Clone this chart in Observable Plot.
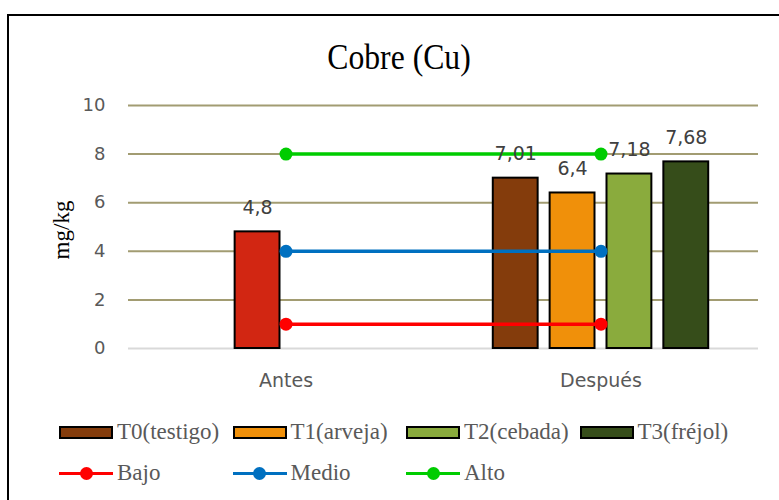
<!DOCTYPE html>
<html><head><meta charset="utf-8">
<script src="https://cdn.jsdelivr.net/npm/d3@7"></script>
<script src="https://cdn.jsdelivr.net/npm/@observablehq/plot@0.6"></script>
<style>
body{margin:0;background:#fff;width:779px;height:500px;overflow:hidden;position:relative;font-family:"Liberation Serif","Times New Roman",serif}
#frame{position:absolute;left:7px;top:14px;width:900px;height:700px;border-left:2px solid #000;border-top:2px solid #000;}
#title{position:absolute;left:248.5px;width:300px;top:39px;text-align:center;font-size:36px;line-height:36px;color:#000;transform:scaleX(0.88);white-space:nowrap}
#ylabel{position:absolute;left:22px;top:217px;width:80px;height:26px;line-height:26px;text-align:center;font-size:23px;color:#000;transform:rotate(-90deg);white-space:nowrap}
#chart{position:absolute;left:0;top:90px}
.lrow{position:absolute;left:59px;display:grid;grid-template-columns:repeat(4,173.5px);height:24px;align-items:center}
.item{display:flex;align-items:center;font-size:23px;color:#595959;white-space:nowrap;line-height:24px}
.sw{width:50px;height:9px;border:2px solid #000;margin-right:4px;box-sizing:content-box}
.ln{width:54px;height:14px;margin-right:4px;position:relative}
.ln .bar{position:absolute;left:0;right:0;top:5.5px;height:3.5px}
.ln .dt{position:absolute;left:20.5px;top:0.5px;width:13px;height:13px;border-radius:50%}
</style>
</head><body>
<div id="frame"></div>
<div id="title">Cobre (Cu)</div>
<div id="ylabel">mg/kg</div>
<div id="chart"></div>
<div class="lrow" id="leg1" style="top:420px"></div>
<div class="lrow" id="leg2" style="top:461px"></div>
<script>
const titleText = "Cobre (Cu)";
const yLabel = "mg/kg";
const categories = ["Antes", "Después"];
const treatments = ["T0(testigo)", "T1(arveja)", "T2(cebada)", "T3(fréjol)"];
const treatmentColors = ["#843c0c", "#f0900a", "#8aab3d", "#364d1a"];
const despuesValues = [7.01, 6.4, 7.18, 7.68];
const antesValue = 4.8;
const antesSlot = "T1(arveja)";
const antesColor = "#d22612";
const levels = ["Bajo", "Medio", "Alto"];
const levelValues = [1, 4, 8];
const levelColors = ["#ff0000", "#0070c0", "#00cc00"];
const yTicks = [0, 2, 4, 6, 8, 10];

const SLOT = 0.1805, BARW = 0.1424;
const bars = [
  {cat: 0, slot: treatments.indexOf(antesSlot), value: antesValue, color: antesColor},
  ...despuesValues.map((v, i) => ({cat: 1, slot: i, value: v, color: treatmentColors[i]}))
];
const center = d => d.cat + (d.slot - (treatments.length - 1) / 2) * SLOT;
const levelLines = levels.flatMap((l, i) => categories.map((c, ci) => ({level: l, cat: ci, value: levelValues[i], color: levelColors[i]})));
const fmt = v => String(v).replace(".", ",");

const chart = Plot.plot({
  width: 779, height: 308,
  marginLeft: 128, marginRight: 21, marginTop: 15, marginBottom: 50,
  x: {domain: [-0.5, 1.5]},
  y: {domain: [0, 10]},
  color: {type: "identity"},
  style: {fontFamily: "DejaVu Sans", fontSize: "18px", color: "#595959", background: "transparent"},
  marks: [
    Plot.ruleY(yTicks.filter(t => t > 0), {stroke: "#a29c72", strokeWidth: 2}),
    Plot.ruleY([0], {stroke: "#d9d9d9", strokeWidth: 2}),
    Plot.rect(bars, {x1: d => center(d) - BARW / 2, x2: d => center(d) + BARW / 2, y1: () => 0, y2: "value", fill: d => d.color, stroke: "#000", strokeWidth: 2}),
    Plot.axisY({ticks: yTicks, tickSize: 0, tickPadding: 23, label: null, fontSize: 18}),
    Plot.axisX({ticks: categories.map((_, i) => i), tickFormat: i => categories[i], tickSize: 0, tickPadding: 25, label: null, fontSize: 19}),
    Plot.line(levelLines, {x: "cat", y: "value", z: "level", stroke: d => d.color, strokeWidth: 3.5}),
    Plot.dot(levelLines, {x: "cat", y: "value", fill: d => d.color, r: 6.5}),
    Plot.text(bars, {x: center, y: "value", text: d => fmt(d.value), dy: -24, fill: "#404040", fontSize: 19})
  ]
});
document.getElementById("chart").appendChild(chart);
document.getElementById("title").textContent = titleText;
document.getElementById("ylabel").textContent = yLabel;

const leg1 = document.getElementById("leg1");
treatments.forEach((t, i) => {
  const it = document.createElement("div"); it.className = "item";
  const sw = document.createElement("div"); sw.className = "sw"; sw.style.background = treatmentColors[i];
  it.appendChild(sw); it.appendChild(document.createTextNode(t)); leg1.appendChild(it);
});
const leg2 = document.getElementById("leg2");
levels.forEach((l, i) => {
  const it = document.createElement("div"); it.className = "item";
  const ln = document.createElement("div"); ln.className = "ln";
  const b = document.createElement("div"); b.className = "bar"; b.style.background = levelColors[i];
  const d = document.createElement("div"); d.className = "dt"; d.style.background = levelColors[i];
  ln.appendChild(b); ln.appendChild(d);
  it.appendChild(ln); it.appendChild(document.createTextNode(l)); leg2.appendChild(it);
});
</script>
</body></html>
